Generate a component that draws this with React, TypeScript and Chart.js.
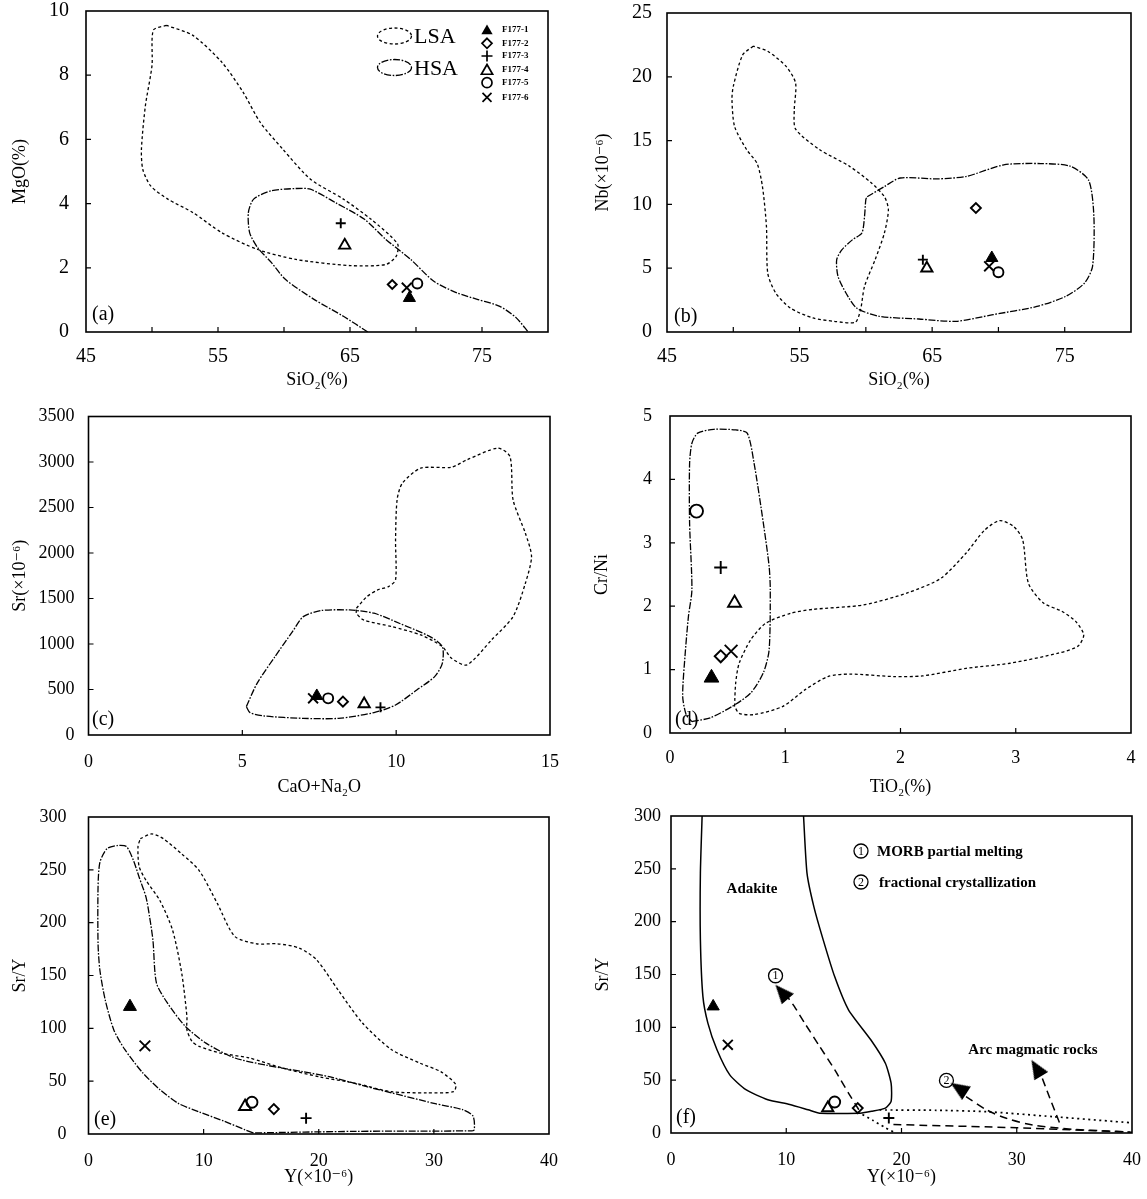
import React, { useEffect, useRef } from "react";
import { Chart, registerables } from "chart.js";

Chart.register(...registerables);

const SERIF = "'Liberation Serif', 'DejaVu Serif', 'Times New Roman', serif";
type Pt = [number, number];

const sampleNames = ["F177-1", "F177-2", "F177-3", "F177-4", "F177-5", "F177-6"];

// ---------- (a) SiO2 vs MgO ----------
const aSiO2 = [69.5, 68.2, 64.3, 64.6, 70.1, 69.3];
const aMgO = [1.06, 1.48, 3.39, 2.7, 1.51, 1.38];
const aLSA: Pt[] = [[51.1,9.55],[50.1,9.4],[50.0,8.3],[49.5,7.05],[49.2,5.7],[49.3,5.07],[49.9,4.55],[51.2,4.14],[53.1,3.72],[55.3,3.09],[58.0,2.57],[60.9,2.26],[65.0,2.07],[67.7,2.1],[68.5,2.36],[68.6,2.75],[66.6,3.51],[64.5,4.14],[62.0,4.76],[59.9,5.7],[58.2,6.53],[56.9,7.47],[55.3,8.4],[53.1,9.24],[51.1,9.55]];
const aHSA: Pt[] = [[66.35,0],[64.5,0.49],[62.3,1.01],[60.1,1.64],[59.05,2.16],[58.0,2.63],[57.4,3.09],[57.3,3.72],[57.7,4.14],[59.05,4.4],[60.9,4.47],[62.0,4.45],[63.9,4.03],[66.1,3.51],[67.7,2.89],[69.6,2.26],[71.35,1.58],[73.1,1.22],[74.7,1.01],[76.35,0.8],[77.6,0.44],[78.5,0]];
const aXLabels = [45, 55, 65, 75];
const aYLabels = [0, 2, 4, 6, 8, 10];

// ---------- (b) SiO2 vs Nb ----------
const bSiO2 = [69.5, 68.3, 64.3, 64.6, 70.0, 69.3];
const bNb = [5.8, 9.72, 5.67, 5.0, 4.68, 5.15];
const bLSA: Pt[] = [[51.5,22.4],[50.7,21.7],[50.0,19.25],[49.9,18.2],[50.1,16.1],[51.0,14.3],[51.8,13.2],[52.2,11.4],[52.5,8.3],[52.6,4.6],[53.2,3.06],[54.3,1.88],[56.0,1.1],[57.6,0.84],[59.2,0.76],[59.6,1.75],[59.9,3.58],[60.7,5.67],[61.4,7.76],[61.7,9.59],[61.4,10.6],[60.4,11.7],[58.75,13.0],[56.5,14.3],[54.7,15.9],[54.6,17.4],[54.7,19.5],[54.0,20.8],[52.6,22.0],[51.5,22.4]];
const bHSA: Pt[] = [[60.1,10.6],[61.4,11.4],[62.6,12.07],[65.4,12.0],[67.6,12.2],[70.4,13.1],[73.2,13.2],[75.4,13.0],[76.8,11.9],[77.2,9.06],[77.1,5.15],[76.5,3.84],[75.1,2.8],[72.9,2.0],[69.6,1.36],[66.8,0.84],[64.0,1.02],[61.0,1.23],[59.3,1.88],[58.5,3.06],[57.9,4.36],[57.8,5.67],[58.2,6.45],[59.0,7.24],[59.7,7.76],[59.9,9.06],[60.0,10.4],[60.1,10.6]];
const bXLabels = [45, 55, 65, 75];
const bYLabels = [0, 5, 10, 15, 20, 25];

// ---------- (c) CaO+Na2O vs Sr ----------
const cCaONa2O = [7.42, 8.27, 9.49, 8.96, 7.79, 7.3];
const cSr = [429, 366, 304, 341, 403, 403];
const cLSA: Pt[] = [[8.71,1393],[9.05,1521],[9.4,1594],[9.75,1631],[9.98,1704],[9.98,2144],[10.03,2584],[10.2,2767],[10.8,2932],[11.8,2943],[12.3,3024],[13.3,3152],[13.7,3060],[13.8,2584],[14.2,2217],[14.4,1961],[14.2,1668],[13.8,1301],[13.1,1045],[12.3,770],[11.8,843],[11.5,971],[10.8,1100],[9.86,1191],[8.94,1264],[8.71,1338],[8.71,1393]];
const cHSA: Pt[] = [[5.13,312],[5.48,568],[6.06,861],[6.63,1136],[6.98,1301],[7.55,1367],[8.48,1374],[9.28,1338],[10.1,1228],[11.1,1081],[11.5,971],[11.5,788],[11.25,641],[10.67,495],[9.98,330],[9.28,246],[8.13,183],[6.98,183],[5.71,209],[5.25,246],[5.13,312]];
const cXLabels = [0, 5, 10, 15];
const cYLabels = [0, 500, 1000, 1500, 2000, 2500, 3000, 3500];

// ---------- (d) TiO2 vs Cr/Ni ----------
const dTiO2 = [0.36, 0.44, 0.44, 0.56, 0.23, 0.53];
const dCrNi = [0.87, 1.21, 2.61, 2.05, 3.5, 1.29];
const dHSA: Pt[] = [[0.19,0.18],[0.35,0.24],[0.54,0.42],[0.70,0.63],[0.81,0.95],[0.86,1.31],[0.87,2.26],[0.86,2.63],[0.81,3.31],[0.73,4.25],[0.67,4.73],[0.57,4.78],[0.38,4.79],[0.24,4.73],[0.19,4.57],[0.17,4.25],[0.17,3.31],[0.19,2.26],[0.16,1.84],[0.13,1.21],[0.11,0.58],[0.14,0.29],[0.19,0.18]];
const dLSA: Pt[] = [[0.56,0.42],[0.57,0.79],[0.60,1.10],[0.70,1.47],[0.83,1.73],[1.05,1.89],[1.24,1.95],[1.68,2.02],[2.06,2.21],[2.35,2.44],[2.57,2.84],[2.73,3.2],[2.86,3.35],[2.98,3.26],[3.06,3.05],[3.11,2.36],[3.24,2.05],[3.40,1.92],[3.52,1.76],[3.59,1.55],[3.54,1.37],[3.37,1.26],[2.95,1.10],[2.57,1.02],[2.19,0.9],[1.94,0.89],[1.56,0.93],[1.37,0.89],[1.17,0.68],[0.98,0.42],[0.73,0.29],[0.6,0.31],[0.56,0.42]];
const dXLabels = [0, 1, 2, 3, 4];
const dYLabels = [0, 1, 2, 3, 4, 5];

// ---------- (e) Y vs Sr/Y ----------
const eY = [3.6, 16.1, 18.9, 13.6, 14.2, 4.9];
const eSrY = [120.5, 23.6, 15, 26, 30, 83.4];
const eHSA: Pt[] = [[14.3,1],[13.6,4],[11.8,12],[9.6,21],[7.8,29],[6.2,42],[4.7,58],[3.15,80],[2.2,98.5],[1.45,127],[0.99,155],[0.83,180],[0.83,234],[0.99,257],[1.6,270],[2.5,273],[3.3,272],[3.9,259],[4.4,243],[5.0,224],[5.3,206],[5.6,183],[5.9,143],[6.85,124],[8.4,102],[10.2,86],[12.7,72],[15.5,65],[18.6,59],[21.0,54],[24.1,45],[26.3,39],[30.0,29],[32.5,23],[33.4,17],[33.5,4],[33.1,3],[23.2,2.5],[14.3,1]];
const eLSA: Pt[] = [[4.5,279.5],[5.5,284],[6.5,279.5],[8.1,265],[9.6,249.6],[11.2,218],[12.7,187],[14.6,180],[16.4,180],[18.3,176],[19.8,165],[21.7,136],[23.8,105],[26.3,80],[28.8,67],[30.6,59],[31.9,47],[31.7,40],[29.4,39],[26.3,40],[23.2,48],[20.1,54],[17.0,62],[13.95,72],[11.5,76.5],[9.6,83],[9.0,87.5],[8.55,98.5],[8.55,111],[8.1,152],[7.3,193],[6.2,221],[5.0,240],[4.4,253],[4.3,272],[4.5,279.5]];
const eXLabels = [0, 10, 20, 30, 40];
const eYLabels = [0, 50, 100, 150, 200, 250, 300];

// ---------- (f) Y vs Sr/Y (adakite diagram) ----------
const fY = [3.66, 16.2, 18.9, 13.6, 14.2, 4.93];
const fSrY = [119.8, 23.6, 14.2, 23.6, 29.3, 83.5];
const fAdakite: Pt[] = [[2.7,300],[2.55,246],[2.55,183],[2.77,129],[3.2,104],[3.98,79],[5.1,55],[6.5,41],[8.4,31.5],[10.3,27],[11.9,22],[12.9,18.8],[16.4,18.8],[17.4,20.5],[18.6,23.6],[19.1,30],[19.1,47],[18.6,66],[17.35,88],[15.4,116.6],[14.2,148],[13.2,183],[12.4,214],[11.8,246],[11.5,300]];
const fDotUpper: Pt[] = [[18.1,21.8],[23,21.5],[27.4,20.2],[33.1,15.5],[40,9.6]];
const fDotLower: Pt[] = [[16.2,20],[17.5,12],[18.6,5],[19.4,0.5]];
const fDashBottom: Pt[] = [[19.3,8],[30,5],[40,0.8]];
const fArrow1: Pt[] = [[16.3,22],[15.4,37.8],[14.2,59.9],[12.9,81.9],[11.6,104],[10.7,119.8],[10.1,129]];
const fArrow2: Pt[] = [[25.6,34.4],[27.4,21.8],[29.1,13.9],[31.4,7.6],[34.9,3.5],[39.8,1]];
const fArrow3: Pt[] = [[33.7,10],[32.8,35],[32.0,58]];
const fArrowHeadX = [9.6, 24.95, 31.7];
const fArrowHeadY = [133.5, 42.5, 61.5];
const fCircledNumX = [9.07, 23.9];
const fCircledNumY = [148.8, 49.8];
const fXLabels = [0, 10, 20, 30, 40];
const fYLabels = [0, 50, 100, 150, 200, 250, 300];

// ---------- styling helpers ----------
const LSA_DASH = [3, 2.5];
const HSA_DASH = [7, 1.6, 1.6, 1.6];

const markerKinds = [
  { style: "triangle", filled: true },
  { style: "rectRot", filled: false },
  { style: "cross", filled: false },
  { style: "triangle", filled: false },
  { style: "circle", filled: false },
  { style: "crossRot", filled: false },
];

function samples(xs: number[], ys: number[], radii: number[]) {
  return xs.map((x, i) => ({
    label: sampleNames[i],
    data: [{ x, y: ys[i] }],
    showLine: false,
    pointStyle: markerKinds[i].style,
    pointRadius: radii[i],
    pointHoverRadius: radii[i],
    pointBorderWidth: markerKinds[i].filled ? 1 : 1.9,
    pointBorderColor: "#000",
    pointBackgroundColor: markerKinds[i].filled ? "#000" : "rgba(255,255,255,0)",
    order: 0,
  }));
}

function outline(pts: Pt[], dash: number[], width = 1.3, tension = 0.25) {
  return {
    label: "",
    data: pts.map(([x, y]) => ({ x, y })),
    showLine: true,
    borderColor: "#000",
    borderWidth: width,
    borderDash: dash,
    pointRadius: 0,
    pointHoverRadius: 0,
    tension,
    fill: false,
    order: 5,
  };
}

function makeArrowHead(): HTMLCanvasElement {
  const c = document.createElement("canvas");
  c.width = 16;
  c.height = 19;
  const g = c.getContext("2d")!;
  g.fillStyle = "#000";
  g.beginPath();
  g.moveTo(8, 0);
  g.lineTo(16, 19);
  g.lineTo(0, 19);
  g.closePath();
  g.fill();
  return c;
}

function drawMarker(ctx: CanvasRenderingContext2D, i: number, x: number, y: number, r: number) {
  ctx.save();
  ctx.strokeStyle = "#000";
  ctx.fillStyle = "#000";
  ctx.lineWidth = 1.7;
  ctx.setLineDash([]);
  ctx.beginPath();
  if (i === 0 || i === 3) {
    ctx.moveTo(x, y - r);
    ctx.lineTo(x + r * 0.866, y + r * 0.5);
    ctx.lineTo(x - r * 0.866, y + r * 0.5);
    ctx.closePath();
    if (i === 0) ctx.fill();
    else ctx.stroke();
  } else if (i === 1) {
    ctx.moveTo(x, y - r); ctx.lineTo(x + r, y); ctx.lineTo(x, y + r); ctx.lineTo(x - r, y); ctx.closePath(); ctx.stroke();
  } else if (i === 2) {
    ctx.moveTo(x - r, y); ctx.lineTo(x + r, y); ctx.moveTo(x, y - r); ctx.lineTo(x, y + r); ctx.stroke();
  } else if (i === 4) {
    ctx.arc(x, y, r, 0, Math.PI * 2); ctx.stroke();
  } else {
    const d = r * 0.75;
    ctx.moveTo(x - d, y - d); ctx.lineTo(x + d, y + d); ctx.moveTo(x + d, y - d); ctx.lineTo(x - d, y + d); ctx.stroke();
  }
  ctx.restore();
}

function circledNum(ctx: CanvasRenderingContext2D, x: number, y: number, r: number, n: string, size: number) {
  ctx.save();
  ctx.setLineDash([]);
  ctx.strokeStyle = "#000";
  ctx.lineWidth = 1.3;
  ctx.beginPath();
  ctx.arc(x, y, r, 0, Math.PI * 2);
  ctx.stroke();
  ctx.fillStyle = "#000";
  ctx.font = `${size}px ${SERIF}`;
  ctx.textAlign = "center";
  ctx.textBaseline = "middle";
  ctx.fillText(n, x, y + 0.5);
  ctx.restore();
}

// ---------- frame + inner ticks ----------
const framePlugin = {
  id: "frameTicks",
  afterDraw(chart: any) {
    const { ctx, chartArea: a, scales } = chart;
    ctx.save();
    ctx.setLineDash([]);
    ctx.strokeStyle = "#000";
    ctx.lineWidth = 1.6;
    ctx.strokeRect(a.left, a.top, a.right - a.left, a.bottom - a.top);
    ctx.lineWidth = 1.2;
    ctx.beginPath();
    for (const t of scales.x.ticks) {
      const p = scales.x.getPixelForValue(t.value);
      if (p <= a.left + 1 || p >= a.right - 1) continue;
      ctx.moveTo(p, a.bottom);
      ctx.lineTo(p, a.bottom - 5);
    }
    for (const t of scales.y.ticks) {
      const p = scales.y.getPixelForValue(t.value);
      if (p >= a.bottom - 1 || p <= a.top + 1) continue;
      ctx.moveTo(a.left, p);
      ctx.lineTo(a.left + 5, p);
    }
    ctx.stroke();
    ctx.restore();
  },
};

interface AxisSpec {
  min: number; max: number; step: number; labels: number[]; pad: number; title: string; titleCenter: number;
}
interface Spec {
  canvas: { x: number; y: number; w: number; h: number };
  area: { l: number; r: number; t: number; b: number };
  x: AxisSpec;
  y: AxisSpec;
  tickSize: number;
  datasets: () => any[];
  letter: string;
  letterPos: [number, number];
  draw?: (chart: any, ox: number, oy: number) => void;
}

const TITLE_SIZE = 18;
const TITLE_LH = TITLE_SIZE * 1.2;

function buildConfig(s: Spec): any {
  const { canvas: c, area } = s;
  const yW = area.l - c.x;
  const xH = c.y + c.h - area.b;
  const tickCb = (labels: number[]) => (v: any) => {
    const n = Number(v);
    return labels.some((l) => Math.abs(l - n) < 1e-6) ? String(n) : "";
  };
  const custom = {
    id: "panelText",
    afterDraw(chart: any) {
      const ctx = chart.ctx;
      ctx.save();
      ctx.fillStyle = "#000";
      ctx.font = `20px ${SERIF}`;
      ctx.textAlign = "left";
      ctx.textBaseline = "middle";
      ctx.fillText(s.letter, s.letterPos[0] - c.x, s.letterPos[1] - c.y);
      ctx.restore();
      if (s.draw) s.draw(chart, c.x, c.y);
    },
  };
  return {
    type: "scatter",
    data: { datasets: s.datasets() },
    options: {
      animation: false,
      responsive: false,
      devicePixelRatio: 1,
      events: [],
      layout: { padding: { left: 0, top: area.t - c.y, right: c.x + c.w - area.r, bottom: 0 } },
      plugins: { legend: { display: false }, tooltip: { enabled: false } },
      scales: {
        x: {
          type: "linear",
          min: s.x.min,
          max: s.x.max,
          grid: { display: false, drawTicks: false },
          border: { display: false },
          ticks: {
            stepSize: s.x.step, autoSkip: false, maxRotation: 0, padding: s.x.pad, color: "#000",
            font: { family: SERIF, size: s.tickSize }, callback: tickCb(s.x.labels),
          },
          title: {
            display: true, text: s.x.title, color: "#000", font: { family: SERIF, size: TITLE_SIZE },
            padding: { top: 0, bottom: c.y + c.h - s.x.titleCenter - TITLE_LH / 2 },
          },
          afterFit: (sc: any) => { sc.height = xH; sc.paddingLeft = 0; sc.paddingRight = 0; },
        },
        y: {
          type: "linear",
          min: s.y.min,
          max: s.y.max,
          grid: { display: false, drawTicks: false },
          border: { display: false },
          ticks: {
            stepSize: s.y.step, autoSkip: false, padding: s.y.pad, color: "#000",
            font: { family: SERIF, size: s.tickSize }, callback: tickCb(s.y.labels),
          },
          title: {
            display: true, text: s.y.title, color: "#000", font: { family: SERIF, size: TITLE_SIZE },
            padding: { top: s.y.titleCenter - c.x - TITLE_LH / 2, bottom: 0 },
          },
          afterFit: (sc: any) => { sc.width = yW; sc.paddingTop = 0; sc.paddingBottom = 0; },
        },
      },
    },
    plugins: [framePlugin, custom],
  };
}

// ---------- panel specs ----------
const legendA = (chart: any, ox: number, oy: number) => {
  const ctx: CanvasRenderingContext2D = chart.ctx;
  ctx.save();
  ctx.strokeStyle = "#000";
  ctx.lineWidth = 1.3;
  ctx.setLineDash(LSA_DASH);
  ctx.beginPath();
  ctx.ellipse(394.5 - ox, 36 - oy, 17, 8, 0, 0, Math.PI * 2);
  ctx.stroke();
  ctx.setLineDash(HSA_DASH);
  ctx.beginPath();
  ctx.ellipse(394.5 - ox, 67.5 - oy, 17, 8, 0, 0, Math.PI * 2);
  ctx.stroke();
  ctx.setLineDash([]);
  ctx.fillStyle = "#000";
  ctx.font = `22px ${SERIF}`;
  ctx.textAlign = "left";
  ctx.textBaseline = "middle";
  ctx.fillText("LSA", 414 - ox, 37 - oy);
  ctx.fillText("HSA", 414 - ox, 69 - oy);
  const rows = [30, 43.3, 56, 70, 82.7, 97.3];
  const radii = [6.5, 5, 5.5, 6.5, 5, 6];
  ctx.font = `bold 9px ${SERIF}`;
  rows.forEach((ry, i) => {
    drawMarker(ctx, i, 487 - ox, ry - oy + (i === 0 || i === 3 ? 1 : 0), radii[i]);
    ctx.fillStyle = "#000";
    ctx.fillText(sampleNames[i], 502 - ox, ry - oy);
  });
  ctx.restore();
};

const annotF = (chart: any, ox: number, oy: number) => {
  const ctx: CanvasRenderingContext2D = chart.ctx;
  const xs = chart.scales.x;
  const ys = chart.scales.y;
  fCircledNumX.forEach((vx, i) => {
    circledNum(ctx, xs.getPixelForValue(vx), ys.getPixelForValue(fCircledNumY[i]), 7, String(i + 1), 12);
  });
  circledNum(ctx, 861 - ox, 851 - oy, 7, "1", 12);
  circledNum(ctx, 861 - ox, 882 - oy, 7, "2", 12);
  ctx.save();
  ctx.fillStyle = "#000";
  ctx.textBaseline = "middle";
  ctx.textAlign = "left";
  ctx.font = `bold 15px ${SERIF}`;
  ctx.fillText("MORB partial melting", 877 - ox, 852 - oy);
  ctx.fillText("fractional crystallization", 879 - ox, 883 - oy);
  ctx.textAlign = "center";
  ctx.fillText("Adakite", 752 - ox, 889 - oy);
  ctx.fillText("Arc magmatic rocks", 1033 - ox, 1050 - oy);
  ctx.restore();
};

const specs: Spec[] = [
  {
    canvas: { x: 0, y: 0, w: 572, h: 392 },
    area: { l: 86, r: 548, t: 11, b: 332 },
    x: { min: 45, max: 80, step: 5, labels: aXLabels, pad: 13, title: "SiO₂(%)", titleCenter: 380 },
    y: { min: 0, max: 10, step: 2, labels: aYLabels, pad: 17, title: "MgO(%)", titleCenter: 20 },
    tickSize: 20,
    datasets: () => [outline(aLSA, LSA_DASH), outline(aHSA, HSA_DASH), ...samples(aSiO2, aMgO, [7, 4.5, 5, 6.5, 5, 7])],
    letter: "(a)",
    letterPos: [92, 315],
    draw: legendA,
  },
  {
    canvas: { x: 572, y: 0, w: 575, h: 392 },
    area: { l: 667, r: 1131, t: 13, b: 332 },
    x: { min: 45, max: 80, step: 5, labels: bXLabels, pad: 13, title: "SiO₂(%)", titleCenter: 380 },
    y: { min: 0, max: 25, step: 5, labels: bYLabels, pad: 15, title: "Nb(×10⁻⁶)", titleCenter: 603 },
    tickSize: 20,
    datasets: () => [outline(bLSA, LSA_DASH), outline(bHSA, HSA_DASH), ...samples(bSiO2, bNb, [7, 5, 5, 6.5, 5, 7])],
    letter: "(b)",
    letterPos: [674, 317],
  },
  {
    canvas: { x: 0, y: 392, w: 572, h: 408 },
    area: { l: 88.5, r: 550, t: 416.5, b: 735 },
    x: { min: 0, max: 15, step: 5, labels: cXLabels, pad: 16, title: "CaO+Na₂O", titleCenter: 787 },
    y: { min: 0, max: 3500, step: 500, labels: cYLabels, pad: 14, title: "Sr(×10⁻⁶)", titleCenter: 20 },
    tickSize: 18,
    datasets: () => [outline(cLSA, LSA_DASH), outline(cHSA, HSA_DASH), ...samples(cCaONa2O, cSr, [7, 5, 5, 6.5, 5, 7])],
    letter: "(c)",
    letterPos: [92, 720],
  },
  {
    canvas: { x: 572, y: 392, w: 575, h: 408 },
    area: { l: 670, r: 1131, t: 416, b: 733 },
    x: { min: 0, max: 4, step: 1, labels: dXLabels, pad: 14, title: "TiO₂(%)", titleCenter: 787 },
    y: { min: 0, max: 5, step: 1, labels: dYLabels, pad: 18, title: "Cr/Ni", titleCenter: 602 },
    tickSize: 18,
    datasets: () => [outline(dLSA, LSA_DASH), outline(dHSA, HSA_DASH), ...samples(dTiO2, dCrNi, [8.5, 6, 6.5, 7.5, 6.5, 9])],
    letter: "(d)",
    letterPos: [675, 720],
  },
  {
    canvas: { x: 0, y: 792, w: 572, h: 407 },
    area: { l: 88.5, r: 549, t: 817, b: 1134 },
    x: { min: 0, max: 40, step: 10, labels: eXLabels, pad: 16, title: "Y(×10⁻⁶)", titleCenter: 1177 },
    y: { min: 0, max: 300, step: 50, labels: eYLabels, pad: 22, title: "Sr/Y", titleCenter: 20 },
    tickSize: 18,
    datasets: () => [outline(eLSA, LSA_DASH), outline(eHSA, HSA_DASH), ...samples(eY, eSrY, [7.5, 5, 5.5, 7, 5.5, 7.5])],
    letter: "(e)",
    letterPos: [94, 1120],
  },
  {
    canvas: { x: 572, y: 792, w: 575, h: 407 },
    area: { l: 671, r: 1132, t: 816, b: 1133 },
    x: { min: 0, max: 40, step: 10, labels: fXLabels, pad: 16, title: "Y(×10⁻⁶)", titleCenter: 1177 },
    y: { min: 0, max: 300, step: 50, labels: fYLabels, pad: 10, title: "Sr/Y", titleCenter: 603 },
    tickSize: 18,
    datasets: () => [
      outline(fAdakite, [], 1.5, 0.2),
      outline(fDotUpper, [2, 3.5], 1.7, 0.2),
      outline(fDotLower, [2, 3.5], 1.7, 0.2),
      outline(fDashBottom, [8, 5], 1.5, 0.2),
      outline(fArrow1, [8, 5], 1.5, 0.2),
      outline(fArrow2, [8, 5], 1.5, 0.3),
      outline(fArrow3, [8, 5], 1.5, 0.2),
      {
        label: "arrowheads",
        data: fArrowHeadX.map((x, i) => ({ x, y: fArrowHeadY[i] })),
        showLine: false,
        pointStyle: makeArrowHead(),
        pointRadius: 10,
        pointHoverRadius: 10,
        pointRotation: [-41, -57, -31],
        order: 1,
      },
      ...samples(fY, fSrY, [7, 5, 5.5, 6.5, 5.5, 7]),
    ],
    letter: "(f)",
    letterPos: [676, 1118],
    draw: annotF,
  },
];

function Panel({ spec }: { spec: Spec }) {
  const ref = useRef<HTMLCanvasElement>(null);
  useEffect(() => {
    if (!ref.current) return;
    const chart = new Chart(ref.current, buildConfig(spec));
    return () => chart.destroy();
  }, [spec]);
  const { x, y, w, h } = spec.canvas;
  return (
    <canvas
      ref={ref}
      width={w}
      height={h}
      style={{ position: "absolute", left: x, top: y, width: w, height: h }}
    />
  );
}

export default function App() {
  return (
    <div style={{ position: "absolute", left: 0, top: 0, width: 1147, height: 1199, background: "#fff", overflow: "hidden" }}>
      {specs.map((s, i) => (
        <Panel key={i} spec={s} />
      ))}
    </div>
  );
}
